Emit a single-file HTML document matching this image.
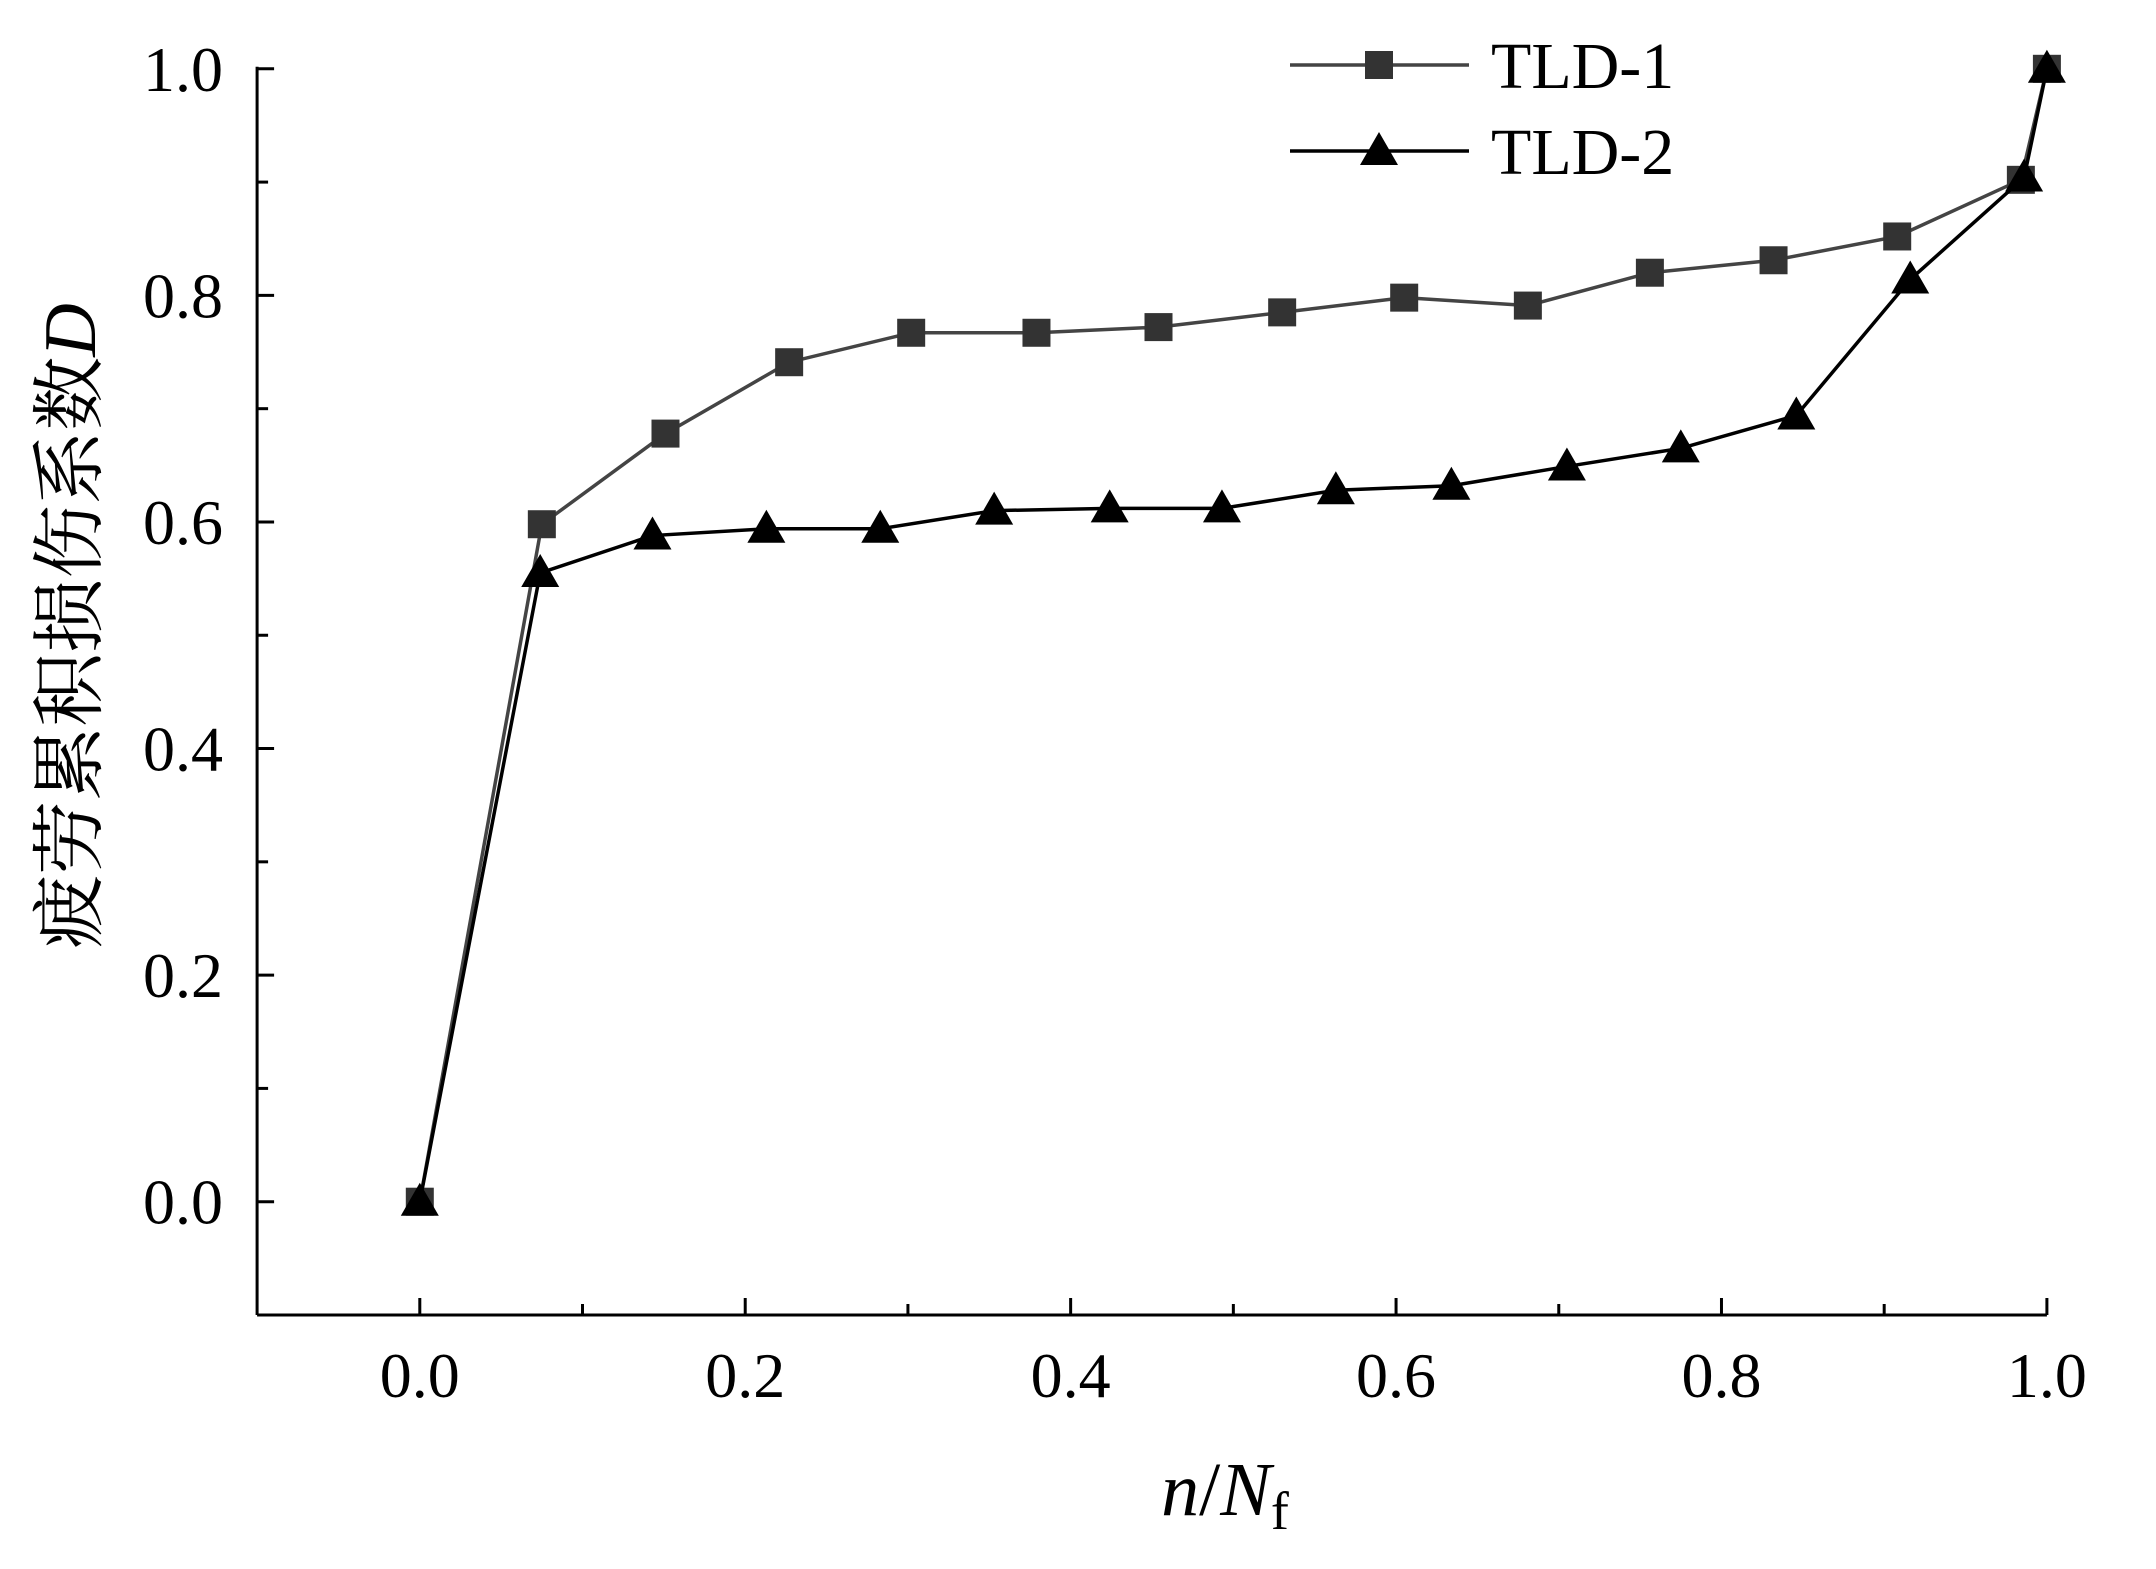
<!DOCTYPE html>
<html><head><meta charset="utf-8"><style>
html,body{margin:0;padding:0;background:#fff;}
svg{display:block;}
text{font-family:"Liberation Serif","Noto Serif CJK SC",serif;fill:#000;}
</style></head><body>
<svg id="chart" width="2156" height="1569" viewBox="0 0 2156 1569"></svg>
<script>
const xTicks=["0.0","0.2","0.4","0.6","0.8","1.0"];
const yTicks=["0.0","0.2","0.4","0.6","0.8","1.0"];
const tld1X=[0,0.075,0.151,0.227,0.302,0.379,0.454,0.530,0.605,0.681,0.756,0.832,0.908,0.984,1];
const tld1Y=[0,0.598,0.678,0.741,0.767,0.767,0.772,0.785,0.798,0.791,0.820,0.831,0.852,0.902,1];
const tld2X=[0,0.074,0.143,0.213,0.283,0.353,0.424,0.493,0.563,0.634,0.705,0.775,0.846,0.916,0.986,1];
const tld2Y=[0,0.555,0.588,0.594,0.594,0.610,0.612,0.612,0.628,0.632,0.649,0.665,0.694,0.814,0.904,1];

const NS="http://www.w3.org/2000/svg";
const svg=document.getElementById('chart');
const X=v=>419.8+v*(2046.9-419.8);
const Y=v=>1201.7-v*(1201.7-68.8);
const axL=X(-0.1), axB=Y(-0.1);
function mk(tag,attrs,parent){const e=document.createElementNS(NS,tag);for(const k in attrs)e.setAttribute(k,attrs[k]);(parent||svg).appendChild(e);return e;}

let e=mk('line',{x1:axL,y1:axB,x2:X(1),y2:axB,stroke:'#000','stroke-width':3});


e=mk('line',{x1:axL,y1:axB,x2:axL,y2:Y(1)-2,stroke:'#000','stroke-width':3});



for(let i=0;i<=10;i++){
  const v=i/10, len=(i%2===0)?17:11;
  e=mk('line',{x1:X(v),y1:axB,x2:X(v),y2:axB-len,stroke:'#000','stroke-width':3});
  
  
  e=mk('line',{x1:axL,y1:Y(v),x2:axL+len,y2:Y(v),stroke:'#000','stroke-width':3});
  
  
}
xTicks.forEach(t=>{
  e=mk('text',{x:X(parseFloat(t)),y:1397,'text-anchor':'middle','font-size':64});
  e.textContent=t;
  
  
});
yTicks.forEach(t=>{
  e=mk('text',{x:223,y:Y(parseFloat(t))+22,'text-anchor':'end','font-size':64});
  e.textContent=t;
  
  
});

e=mk('text',{x:1225,y:1515,'text-anchor':'middle','font-size':76});
e.innerHTML='<tspan font-style="italic">n</tspan>/<tspan font-style="italic">N</tspan><tspan font-size="54" dy="14">f</tspan>';


e=mk('text',{x:0,y:0,'text-anchor':'middle','font-size':74,transform:'translate(95,626) rotate(-90)'});
e.innerHTML='疲劳累积损伤系数<tspan font-style="italic">D</tspan>';



function square(cx,cy,g){const s=28;return mk('rect',{x:cx-s/2,y:cy-s/2,width:s,height:s,fill:'#333'},g);}
function tri(cx,cy,g){return mk('polygon',{points:`${cx},${cy-19} ${cx-19},${cy+14} ${cx+19},${cy+14}`,fill:'#000'},g);}

function series(xs,ys,color,marker,name){
  const g=mk('g',{});
  
  
  const l=mk('polyline',{points:xs.map((v,i)=>X(v)+','+Y(ys[i])).join(' '),fill:'none',stroke:color,'stroke-width':3.5},g);
  
  
  xs.forEach((v,i)=>{const m=marker(X(v),Y(ys[i]),g);
    
    });
}
series(tld1X,tld1Y,'#444',square,'tld-1-series');
series(tld2X,tld2Y,'#000',tri,'tld-2-series');

const lg=mk('g',{});


const L=[['TLD-1',65,'#444',square],['TLD-2',151,'#000',tri]];
L.forEach(([t,y,c,m])=>{
  const g=mk('g',{},lg);
  
  
  mk('line',{x1:1290,y1:y,x2:1469,y2:y,stroke:c,'stroke-width':3.5},g);
  m(1379,y,g);
  const tx=mk('text',{x:1491,y:y+23,'font-size':66},g);
  tx.textContent=t;
});
</script>
</body></html>
